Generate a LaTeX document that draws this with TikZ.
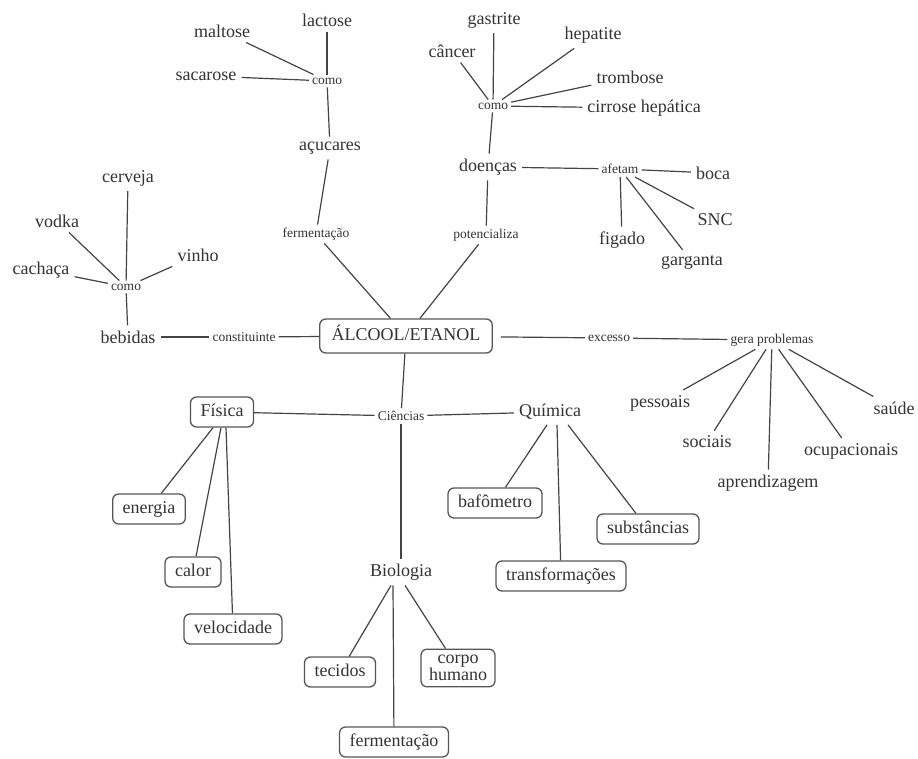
\documentclass[tikz,border=0pt]{standalone}
\usepackage{fontspec}
\setmainfont{Liberation Serif}
\definecolor{txt}{HTML}{333333}
\definecolor{linec}{HTML}{444444}
\definecolor{boxc}{HTML}{555555}
\begin{document}
\begin{tikzpicture}[x=1pt,y=-1pt,
  lbl/.style={text=txt, font=\fontsize{18}{20}\selectfont, inner sep=5pt},
  sm/.style={text=txt, font=\fontsize{13.5}{15}\selectfont, inner sep=3pt},
  box/.style={text=txt, font=\fontsize{18}{20}\selectfont, draw=boxc, line width=1.3pt, rounded corners=6pt, inner xsep=10pt, inner ysep=7pt, text height=12pt, text depth=4pt},
  box2/.style={text=txt, font=\fontsize{18}{20}\selectfont, draw=boxc, line width=1.3pt, rounded corners=6pt, inner xsep=8pt, inner ysep=6pt, align=center},
  link/.style={draw=linec, line width=1.2pt}]
\useasboundingbox[fill=white] (0,0) rectangle (918,759);

% top-left cluster
\node[lbl] (lactose) at (327,20) {lactose};
\node[lbl] (maltose) at (222,31) {maltose};
\node[lbl] (sacarose) at (206,76) {sacarose};
\node[sm] (comoA) at (327,81) {como};
\node[lbl] (acucares) at (330,148) {açucares};
\node[sm] (fermlbl) at (316,234) {fermentação};

% top-middle cluster
\node[lbl] (gastrite) at (494,20) {gastrite};
\node[lbl] (cancer) at (452,51) {câncer};
\node[lbl] (hepatite) at (593,35) {hepatite};
\node[lbl] (trombose) at (630,77) {trombose};
\node[lbl] (cirrose) at (644,108) {cirrose hepática};
\node[sm] (comoB) at (493,106) {como};
\node[lbl] (doencas) at (488,167) {doenças};
\node[sm] (potenc) at (486,235) {potencializa};

\node[sm] (afetam) at (620,169) {afetam};
\node[lbl] (boca) at (713,173) {boca};
\node[lbl] (snc) at (715,220) {SNC};
\node[lbl] (figado) at (622,240) {figado};
\node[lbl] (garganta) at (692,262) {garganta};

% left cluster
\node[lbl] (cerveja) at (128,178) {cerveja};
\node[lbl] (vodka) at (57,221) {vodka};
\node[lbl] (vinho) at (198,255) {vinho};
\node[lbl] (cachaca) at (41,270) {cachaça};
\node[sm] (comoC) at (126,287) {como};
\node[lbl] (bebidas) at (128,337) {bebidas};
\node[sm] (constit) at (244,337) {constituinte};

% centre
\node[box, inner xsep=12pt, inner ysep=9pt] (alcool) at (406,336) {ÁLCOOL/ETANOL};

% right cluster
\node[sm] (excesso) at (609,338) {excesso};
\node[sm] (gera) at (772,340) {gera problemas};
\node[lbl] (pessoais) at (660,403) {pessoais};
\node[lbl] (sociais) at (707,442) {sociais};
\node[lbl] (aprend) at (768,483) {aprendizagem};
\node[lbl] (ocup) at (851,451) {ocupacionais};
\node[lbl] (saude) at (894,408) {saúde};

% sciences
\node[sm] (ciencias) at (401,416) {Ciências};
\node[box] (fisica) at (222,412) {Física};
\node[lbl] (quimica) at (550,412) {Química};
\node[lbl] (biologia) at (401,572) {Biologia};

\node[box] (energia) at (149,509) {energia};
\node[box] (calor) at (193,572) {calor};
\node[box] (velocidade) at (233,629) {velocidade};

\node[box] (tecidos) at (340,672) {tecidos};
\node[box2] (corpo) at (458,668) {corpo\\[-3pt]humano};
\node[box] (fermbox) at (394,742) {fermentação};

\node[box] (bafometro) at (495,503) {bafômetro};
\node[box] (transf) at (561,576) {transformações};
\node[box] (subst) at (648,529) {substâncias};

% connectors
\draw[link] (lactose) -- (comoA);
\draw[link] (maltose) -- (comoA);
\draw[link] (sacarose) -- (comoA);
\draw[link] (comoA) -- (acucares);
\draw[link] (acucares) -- (fermlbl);
\draw[link] (fermlbl) -- (alcool);

\draw[link] (gastrite) -- (comoB);
\draw[link] (cancer) -- (comoB);
\draw[link] (hepatite) -- (comoB);
\draw[link] (trombose) -- (comoB);
\draw[link] (cirrose) -- (comoB);
\draw[link] (comoB) -- (doencas);
\draw[link] (doencas) -- (potenc);
\draw[link] (potenc) -- (alcool);

\draw[link] (doencas) -- (afetam);
\draw[link] (afetam) -- (boca);
\draw[link] (afetam) -- (snc);
\draw[link] (afetam) -- (figado);
\draw[link] (afetam) -- (garganta);

\draw[link] (cerveja) -- (comoC);
\draw[link] (vodka) -- (comoC);
\draw[link] (vinho) -- (comoC);
\draw[link] (cachaca) -- (comoC);
\draw[link] (comoC) -- (bebidas);
\draw[link] (bebidas) -- (constit);
\draw[link] (constit) -- (alcool);

\draw[link, shorten <=8pt] (alcool) -- (excesso);
\draw[link] (excesso) -- (gera);
\draw[link] (gera) -- (pessoais);
\draw[link] (gera) -- (sociais);
\draw[link] (gera) -- (aprend);
\draw[link] (gera) -- (ocup);
\draw[link] (gera) -- (saude);

\draw[link] (alcool) -- (ciencias);
\draw[link] (fisica) -- (ciencias);
\draw[link] (ciencias) -- (quimica);
\draw[link] (ciencias) -- (biologia);

\draw[link] ([xshift=-9pt]fisica.south) -- (energia);
\draw[link] ([xshift=-1pt]fisica.south) -- (calor);
\draw[link] ([xshift=4pt]fisica.south) -- (velocidade);

\draw[link] ([xshift=-10pt]biologia.south) -- (tecidos);
\draw[link] ([xshift=-8pt]biologia.south) -- (fermbox);
\draw[link] ([xshift=4pt]biologia.south) -- (corpo);

\draw[link] ([xshift=-3pt]quimica.south) -- (bafometro);
\draw[link] ([xshift=7pt]quimica.south) -- (transf);
\draw[link] ([xshift=18pt]quimica.south) -- (subst);
\end{tikzpicture}
\end{document}
